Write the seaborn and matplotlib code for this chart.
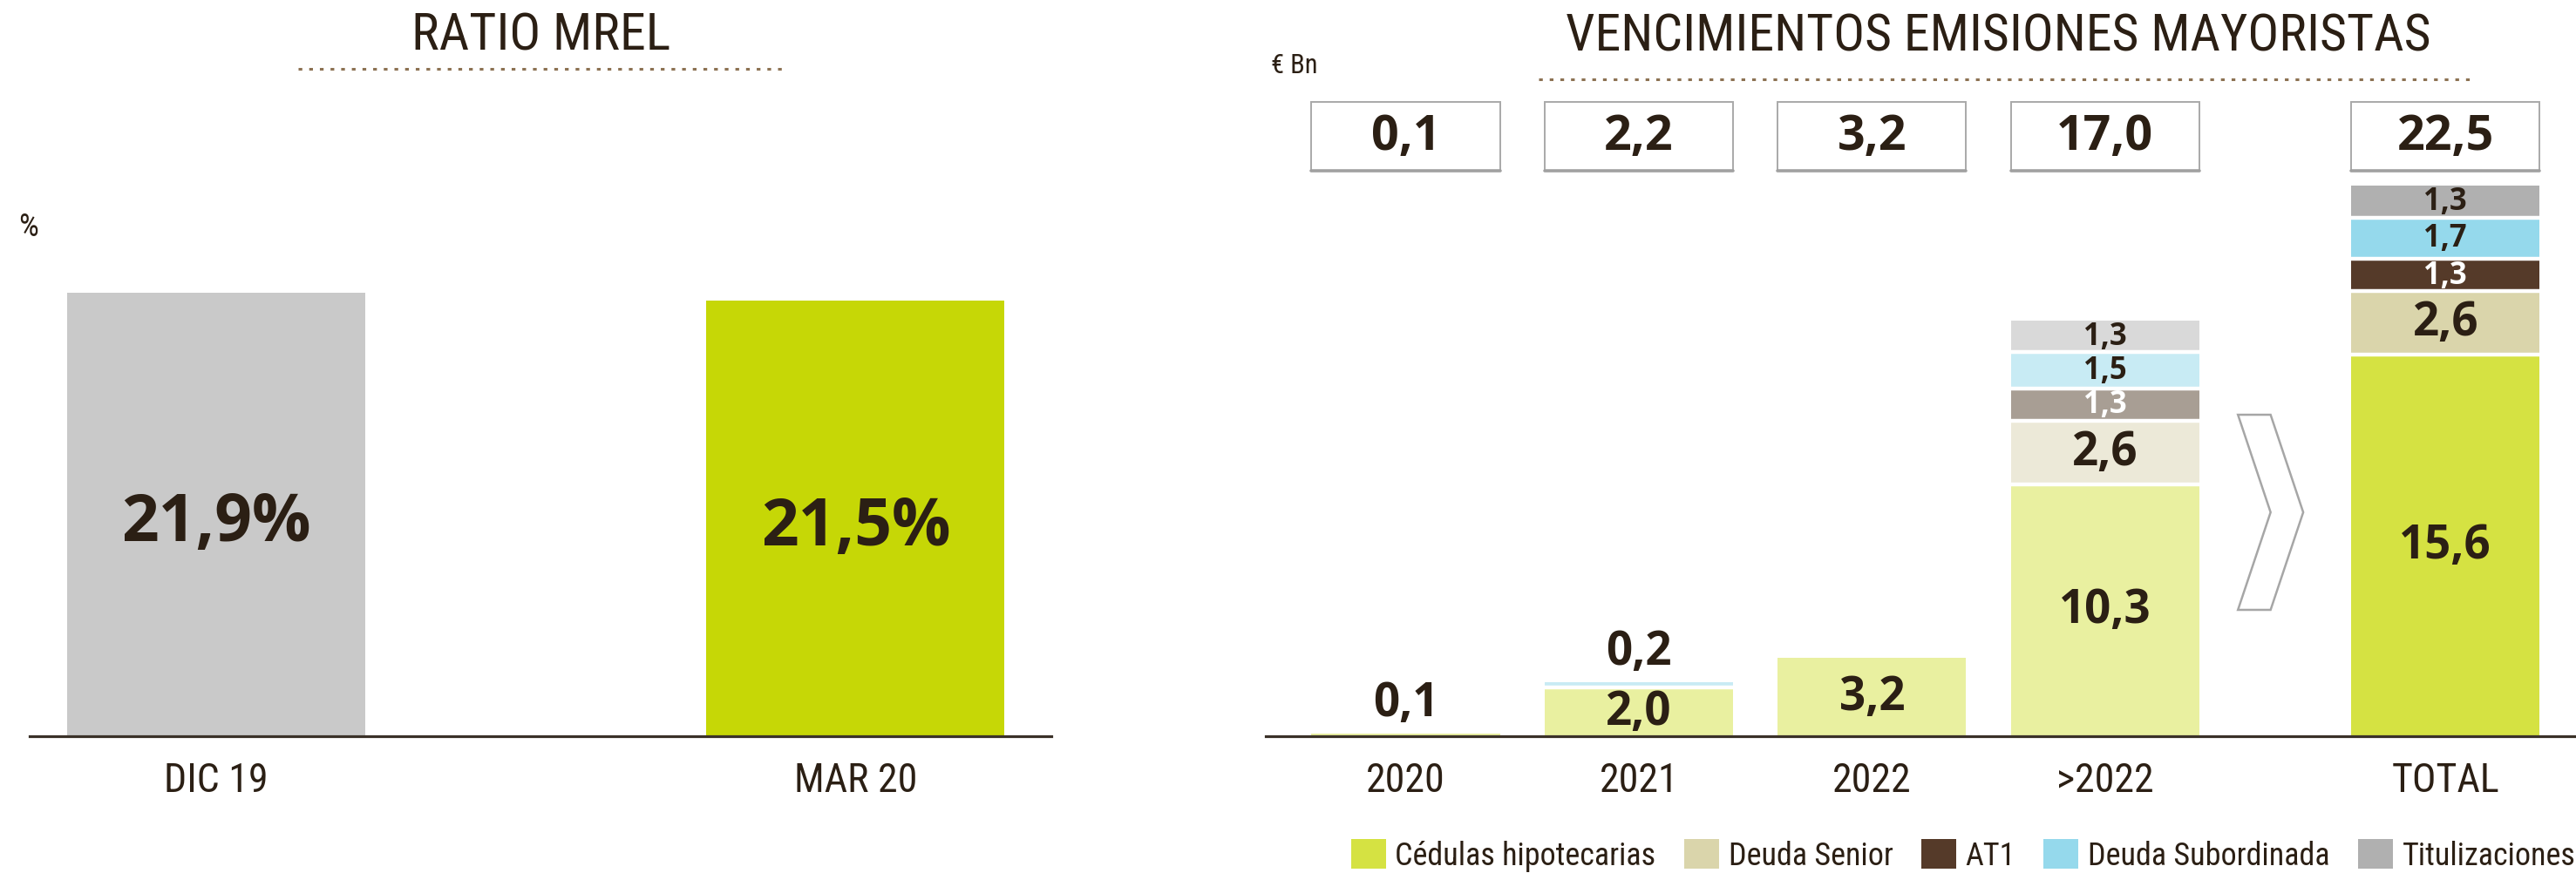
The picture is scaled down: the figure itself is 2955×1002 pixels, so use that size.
import numpy as np
import pandas as pd
import matplotlib
matplotlib.use("Agg")
import matplotlib.pyplot as plt
import matplotlib.transforms as mtransforms
from matplotlib import font_manager
from matplotlib.patches import Rectangle, Polygon, Patch
from matplotlib.lines import Line2D
import seaborn as sns

# ---------------- data ----------------
mrel_periods = ["DIC 19", "MAR 20"]
mrel_values = [21.9, 21.5]

maturity_periods = ["2020", "2021", "2022", ">2022", "TOTAL"]
instrument_names = ["Cédulas hipotecarias", "Deuda Senior", "AT1",
                    "Deuda Subordinada", "Titulizaciones"]
cedulas = [0.1, 2.0, 3.2, 10.3, 15.6]
deuda_senior = [0.0, 0.0, 0.0, 2.6, 2.6]
at1 = [0.0, 0.0, 0.0, 1.3, 1.3]
deuda_subordinada = [0.0, 0.2, 0.0, 1.5, 1.7]
titulizaciones = [0.0, 0.0, 0.0, 1.3, 1.3]

# ---------------- style ----------------
sns.set_style("white")
available = {f.name for f in font_manager.fontManager.ttflist}


def pick(*names):
    for n in names:
        if n in available:
            return n
    return "DejaVu Sans"


NARROW = pick("Liberation Sans Narrow", "Roboto Condensed", "Liberation Sans")
BOLD = pick("Open Sans", "Noto Sans", "Lato")
plt.rcParams["font.family"] = [NARROW, "DejaVu Sans"]

INK = "#2b1f14"
AXIS = "#3a3128"
DOTS = "#8c7152"
BOX_EDGE = "#a9a9a9"

full_colors = ["#d5e242", "#dad5ab", "#553a29", "#95d9ec", "#b0b0b0"]
light_colors = ["#e9f0a0", "#ece9d8", "#a89e94", "#c8ebf4", "#d9d9d9"]
white_label = [False, False, True, False, False]

W, H = 2955, 1003
fig = plt.figure(figsize=(W / 100, H / 100), dpi=100)


def fx(px):
    return px / W


def fy(py):
    return 1 - py / H


def fmt(v):
    return f"{v:.1f}".replace(".", ",")


# ---------------- left: ratio MREL ----------------
axL = fig.add_axes([fx(34), fy(846), fx(1206) - fx(34), fy(200) - fy(846)])
sns.barplot(x=mrel_periods, y=mrel_values, hue=mrel_periods,
            palette=["#c9c9c9", "#c6d706"], saturation=1, width=0.466,
            legend=False, linewidth=0, errorbar=None, ax=axL)
axL.set_xlim(-0.291, 1.306)
axL.set_ylim(0, 27.8)
for i, v in enumerate(mrel_values):
    axL.text(i, v * 0.48, fmt(v) + "%", ha="center", va="center",
             fontsize=54, fontweight="bold", family=BOLD, color=INK)

# ---------------- right: maturities ----------------
R_TOP, R_BOTTOM = 100, 846
axR = fig.add_axes([fx(1452), fy(R_BOTTOM), fx(W) - fx(1452), fy(R_TOP) - fy(R_BOTTOM)])
positions = [0, 1, 2, 3, 4.46]
bar_w = 0.808
y_max = 26.56
px_per_unit = (R_BOTTOM - R_TOP) / y_max
layers = [cedulas, deuda_senior, at1, deuda_subordinada, titulizaciones]
cum = np.cumsum(np.array(layers), axis=0)

# overlapping cumulative bars, tallest first
for k in range(len(layers) - 1, -1, -1):
    df = pd.DataFrame({"pos": positions, "cum": cum[k], "period": maturity_periods})
    pal = {p: (full_colors[k] if p == "TOTAL" else light_colors[k])
           for p in maturity_periods}
    sns.barplot(data=df, x="pos", y="cum", hue="period", palette=pal,
                saturation=1, native_scale=True, width=bar_w, dodge=False,
                legend=False, linewidth=0, errorbar=None, ax=axR)

# white separators between stacked segments and value labels
for i, p in enumerate(positions):
    for k in range(len(layers)):
        v = layers[k][i]
        if v <= 0:
            continue
        hi = cum[k][i]
        if any(layers[j][i] > 0 for j in range(k + 1, len(layers))):
            axR.hlines(hi, p - bar_w / 2, p + bar_w / 2, color="white",
                       lw=3.2, zorder=3)
        seg_px = v * px_per_unit
        if seg_px >= 55:
            axR.text(p, hi - v / 2, fmt(v), ha="center", va="center",
                     fontsize=38, fontweight="bold", family=BOLD,
                     color="white" if white_label[k] else INK, zorder=4)
        elif seg_px >= 30:
            axR.text(p, hi - v / 2, fmt(v), ha="center", va="center",
                     fontsize=25, fontweight="bold", family=BOLD,
                     color="white" if white_label[k] else INK, zorder=4)
        else:
            axR.text(p, hi + 0.3, fmt(v), ha="center", va="bottom",
                     fontsize=38, fontweight="bold", family=BOLD,
                     color=INK, zorder=4)

axR.set_xlim(-0.60, 5.02)
axR.set_ylim(0, y_max)

# total boxes above each column
blend = mtransforms.blended_transform_factory(axR.transData, axR.transAxes)
totals = cum[-1]
for p, t in zip(positions, totals):
    axR.add_patch(Rectangle((p - bar_w / 2, 0.870), bar_w, 0.106,
                            transform=blend, facecolor="white",
                            edgecolor=BOX_EDGE, lw=1.4, clip_on=False, zorder=5))
    axR.add_line(Line2D([p - bar_w / 2, p + bar_w / 2], [0.870, 0.870],
                        transform=blend, color="#a0a0a0", lw=2.6,
                        clip_on=False, zorder=6))
    axR.text(p, 0.923, fmt(t), transform=blend, ha="center", va="center",
             fontsize=40, fontweight="bold", family=BOLD, color=INK, zorder=7)

# chevron between the yearly detail and the total
mid = (positions[3] + positions[4]) / 2
cx0, cx1, cx2 = mid - 0.16, mid - 0.02, mid + 0.12
chev = Polygon([(cx0, 0.4946), (cx1, 0.4946), (cx2, 0.3445), (cx1, 0.1944),
                (cx0, 0.1944), (cx1, 0.3445)], closed=True, transform=blend,
               facecolor="white", edgecolor="#a6a6a6", lw=1.8, zorder=5)
axR.add_patch(chev)

# ---------------- shared axis styling ----------------
for ax, labels, ticks in ((axL, mrel_periods, [0, 1]),
                          (axR, maturity_periods, positions)):
    for s in ("left", "right", "top"):
        ax.spines[s].set_visible(False)
    ax.spines["bottom"].set_color(AXIS)
    ax.spines["bottom"].set_linewidth(2.3)
    ax.spines["bottom"].set_zorder(6)
    ax.set_yticks([])
    ax.set_xticks(ticks)
    ax.set_xticklabels(labels, fontsize=33, color=INK)
    ax.tick_params(axis="x", length=0, pad=20)
    ax.set_xlabel("")
    ax.set_ylabel("")
    ax.patch.set_alpha(0)

# ---------------- titles, units, dotted rules ----------------
fig.text(fx(621), fy(41), "RATIO MREL", ha="center", va="center",
         fontsize=43, color=INK)
fig.text(fx(2292), fy(42), "VENCIMIENTOS EMISIONES MAYORISTAS", ha="center",
         va="center", fontsize=43, color=INK)
fig.text(fx(33), fy(261), "%", ha="center", va="center", fontsize=26, color=INK)
fig.text(fx(1485), fy(75), "€ Bn", ha="center", va="center", fontsize=22,
         color=INK)
for x0, x1, yy in ((342, 900, 80), (1765, 2836, 92)):
    fig.add_artist(Line2D([fx(x0), fx(x1)], [fy(yy), fy(yy)],
                          transform=fig.transFigure, color=DOTS, lw=2.2,
                          dashes=(1.4, 2.6)))

# ---------------- legend ----------------
handles = [Patch(facecolor=c, edgecolor="none", label=n)
           for c, n in zip(full_colors, instrument_names)]
fig.legend(handles=handles, loc="lower left", bbox_to_anchor=(fx(1548), fy(1003)),
           ncol=5, frameon=False, fontsize=26, handlelength=1.1,
           handleheight=1.1, handletextpad=0.3, columnspacing=0.9,
           borderaxespad=0, borderpad=0.05, labelcolor=INK)

fig.savefig("out.png", dpi=100, facecolor="white")
